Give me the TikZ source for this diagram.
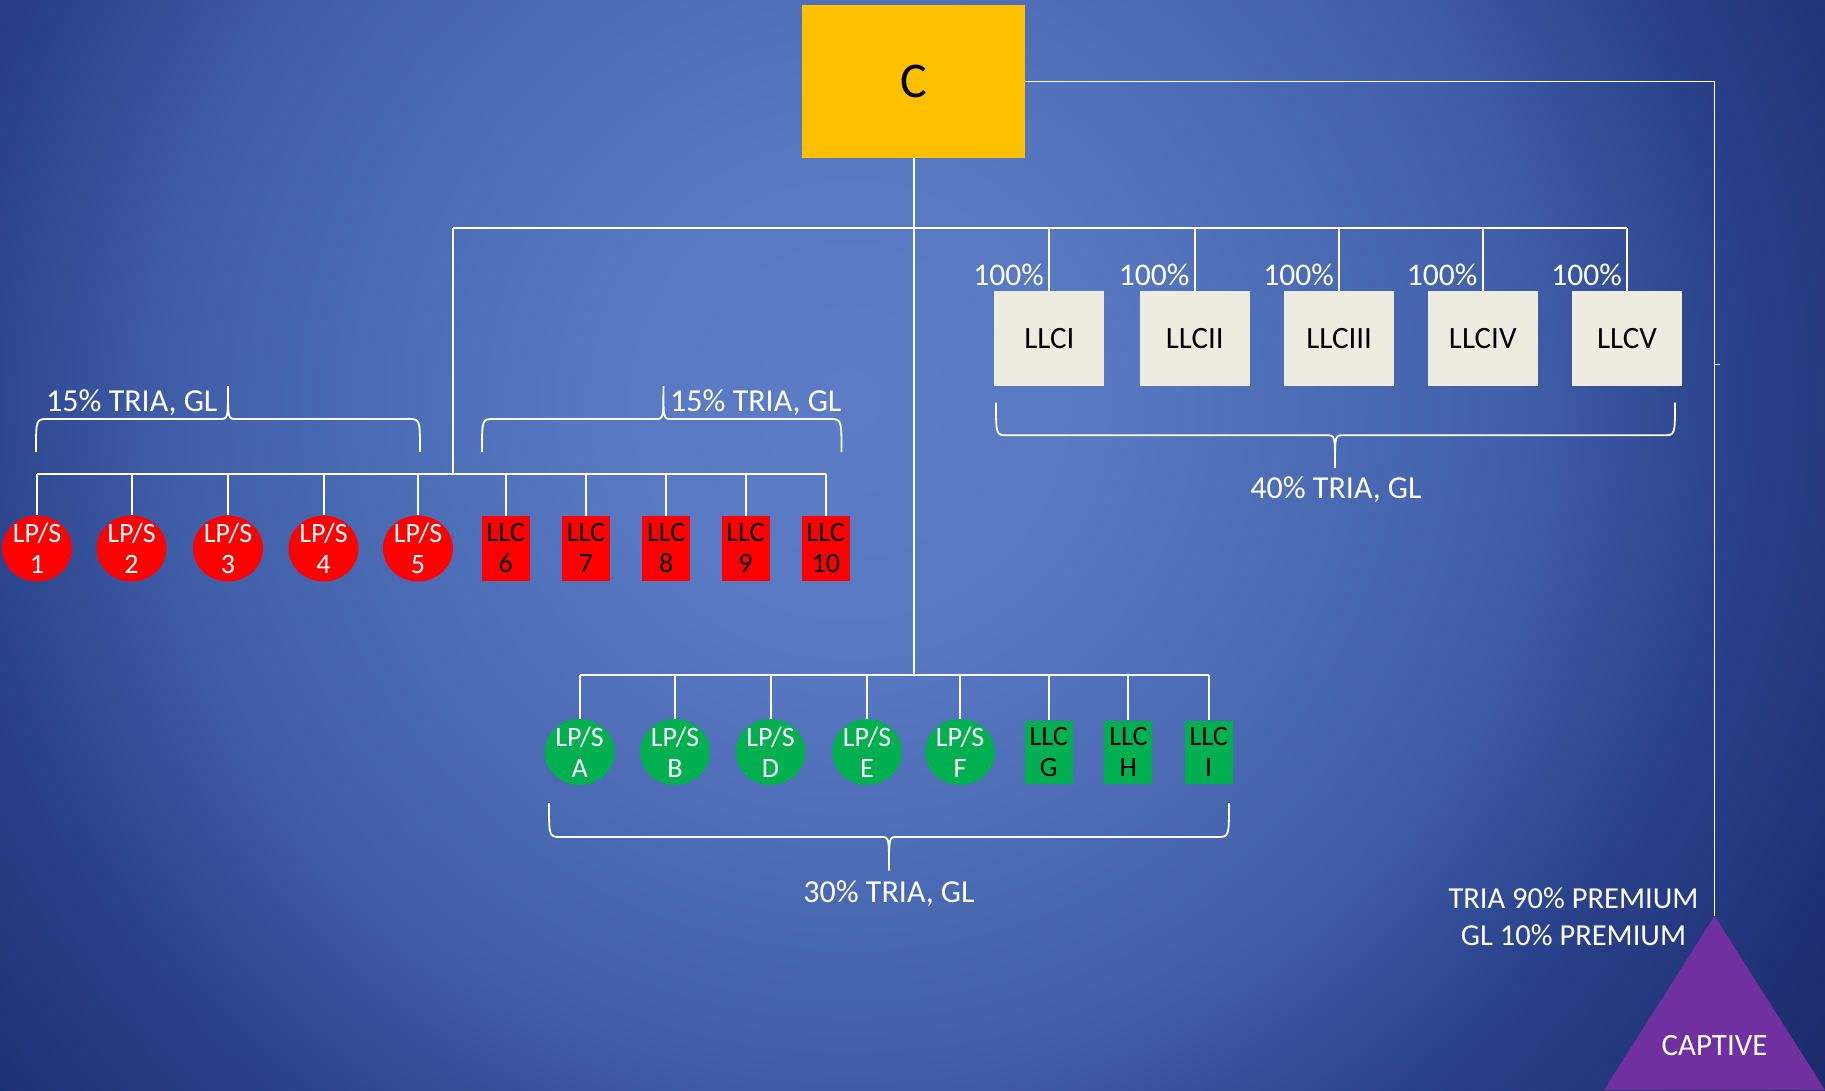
\documentclass[tikz,border=0pt]{standalone}
\usepackage{fontspec}
\setmainfont{Carlito}
\usetikzlibrary{shapes.geometric}
\definecolor{bgA}{RGB}{92,124,198}
\definecolor{bgB}{RGB}{88,120,194}
\definecolor{bgC}{RGB}{66,96,170}
\definecolor{bgD}{RGB}{42,66,140}
\definecolor{bgE}{RGB}{30,48,115}
\definecolor{bgF}{RGB}{22,36,95}
\definecolor{cgold}{HTML}{FFC000}
\definecolor{cred}{HTML}{FF0000}
\definecolor{cgreen}{HTML}{00B050}
\definecolor{cbeige}{HTML}{EEECE1}
\definecolor{cpurple}{HTML}{7030A0}
\pgfdeclareradialshading{bgshade}{\pgfpointorigin}{color(0bp)=(bgA); color(4.5bp)=(bgB); color(11.8bp)=(bgC); color(15.7bp)=(bgD); color(19.6bp)=(bgE); color(24.1bp)=(bgF); color(25bp)=(bgF)}
\newcommand{\mybrace}[6]{%
  \draw[brace] (#1,#4) .. controls (#1,#5) .. ({#1+12},#5) -- ({#3-8},#5)
    .. controls (#3,#5) .. (#3,#6) .. controls (#3,#5) .. ({#3+8},#5)
    -- ({#2-12},#5) .. controls (#2,#5) .. (#2,#4);}
\begin{document}
\begin{tikzpicture}[x=1pt,y=-1pt,
  wire/.style={white,line width=2pt},
  thinwire/.style={white,line width=1.6pt},
  brace/.style={white,line width=1.8pt},
  topbox/.style={fill=cgold,minimum width=223,minimum height=153,inner sep=0,font=\fontsize{50}{58}\selectfont},
  beigebox/.style={fill=cbeige,minimum width=110,minimum height=95,inner sep=0,font=\fontsize{31}{37}\selectfont},
  redell/.style={ellipse,fill=cred,minimum width=70,minimum height=66,inner sep=0,
    label={[text=white,align=center,font=\fontsize{28}{31}\selectfont]center:#1}},
  greenell/.style={ellipse,fill=cgreen,minimum width=70,minimum height=66,inner sep=0,
    label={[text=white,align=center,font=\fontsize{28}{31}\selectfont]center:#1}},
  redsq/.style={fill=cred,minimum width=48,minimum height=65,inner sep=0,align=center,font=\fontsize{28}{31}\selectfont},
  greensq/.style={fill=cgreen,minimum width=48,minimum height=63,inner sep=0,align=center,font=\fontsize{28}{31}\selectfont},
  pct/.style={text=white,anchor=east,inner sep=0,font=\fontsize{31.5}{37}\selectfont},
  lbl/.style={text=white,inner sep=0,font=\fontsize{32}{38}\selectfont},
  premium/.style={text=white,inner sep=0,align=center,font=\fontsize{30.5}{37}\selectfont}]
\useasboundingbox (0,0) rectangle (1825,1090);
\begin{scope}
\clip (0,0) rectangle (1825,1090);
\shade[shading=bgshade] (850,400) circle (1400);
\end{scope}

% top company
\node[topbox] (C) at (913.5,81.5) {C};

% captive
\coordinate (capTop) at (1714.5,916);
\fill[cpurple] (capTop) -- (1825,1090) -- (1604,1090) -- cycle;
\node[text=white,inner sep=0,font=\fontsize{31}{37}\selectfont] (captive) at (1714.5,1046) {CAPTIVE};
\node[premium] (prem) at (1573.5,917) {TRIA 90\% PREMIUM\\GL 10\% PREMIUM};
\draw[thinwire] (C.east) -| (capTop);
\coordinate (tickA) at (1714.5,364);
\coordinate (tickB) at (1720,364);
\draw[white,line width=1pt] (tickA) -- (tickB);

% beige LLCs
\node[beigebox] (L1) at (1049.3,338.7) {LLCI};
\node[beigebox] (L2) at (1194.8,338.7) {LLCII};
\node[beigebox] (L3) at (1339.1,338.7) {LLCIII};
\node[beigebox] (L4) at (1482.8,338.7) {LLCIV};
\node[beigebox] (L5) at (1627.1,338.7) {LLCV};

% red row
\node[redell={LP/S\\1}] (r1) at (37,548.5) {};
\node[redell={LP/S\\2}] (r2) at (131.5,548.5) {};
\node[redell={LP/S\\3}] (r3) at (228,548.5) {};
\node[redell={LP/S\\4}] (r4) at (323.5,548.5) {};
\node[redell={LP/S\\5}] (r5) at (418,548.5) {};
\node[redsq] (r6) at (505.7,548.2) {LLC\\6};
\node[redsq] (r7) at (586,548.2) {LLC\\7};
\node[redsq] (r8) at (666.3,548.2) {LLC\\8};
\node[redsq] (r9) at (745.5,548.2) {LLC\\9};
\node[redsq] (r10) at (825.8,548.2) {LLC\\10};

% green row
\node[greenell={LP/S\\A}] (g1) at (579.6,752) {};
\node[greenell={LP/S\\B}] (g2) at (675,752) {};
\node[greenell={LP/S\\D}] (g3) at (770.5,752) {};
\node[greenell={LP/S\\E}] (g4) at (867,752) {};
\node[greenell={LP/S\\F}] (g5) at (960,752) {};
\node[greensq] (g6) at (1048.7,752) {LLC\\G};
\node[greensq] (g7) at (1128.4,752) {LLC\\H};
\node[greensq] (g8) at (1208.7,752) {LLC\\I};

% bus coordinates
\coordinate (topY) at (0,228);
\coordinate (redY) at (0,473.7);
\coordinate (greenY) at (0,675);
\coordinate (leftDrop) at (453,228);

% trunk
\draw[wire] (C.south) -- (C.south |- greenY);
\draw[wire] (leftDrop) -- (L5.north |- topY);
\foreach \n in {L1,L2,L3,L4,L5} \draw[wire] (\n.north |- topY) -- (\n.north);
\draw[wire] (leftDrop) -- (leftDrop |- redY);
\draw[wire] (r1.north |- redY) -- (r10.north |- redY);
\foreach \n in {r1,r2,r3,r4,r5,r6,r7,r8,r9,r10} \draw[wire] (\n.north |- redY) -- (\n.north);
\draw[wire] (g1.north |- greenY) -- (g8.north |- greenY);
\foreach \n in {g1,g2,g3,g4,g5,g6,g7,g8} \draw[wire] (\n.north |- greenY) -- (\n.north);

% percent labels
\node[pct] (p1) at (1044,274.7) {100\%};
\node[pct] (p2) at (1189.5,274.7) {100\%};
\node[pct] (p3) at (1334,274.7) {100\%};
\node[pct] (p4) at (1477.5,274.7) {100\%};
\node[pct] (p5) at (1622,274.7) {100\%};

% braces
\mybrace{36}{420}{228}{452}{419}{386}
\mybrace{482}{841.5}{663.4}{452}{419}{386}
\mybrace{996}{1675}{1335}{402.7}{435.3}{468}
\mybrace{549}{1229}{889}{803}{837}{870.6}

\node[lbl,anchor=west] (t1) at (46,402.7) {15\% TRIA, GL};
\node[lbl,anchor=west] (t2) at (670,402.7) {15\% TRIA, GL};
\node[lbl] (t3) at (1336,490) {40\% TRIA, GL};
\node[lbl] (t4) at (889,894) {30\% TRIA, GL};
\end{tikzpicture}
\end{document}
